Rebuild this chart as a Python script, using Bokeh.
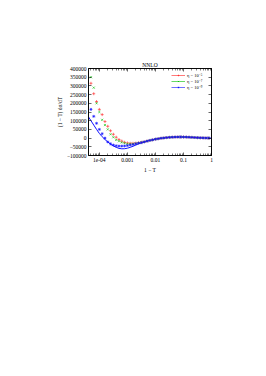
from bokeh.plotting import figure
from bokeh.models import (Range1d, LogAxis, LinearAxis, FixedTicker, Legend, LegendItem,
                          BasicTickFormatter)
from bokeh.embed import file_html
from bokeh.resources import INLINE

# ---------------- data ----------------
bin_exp = [-4.3, -4.2, -4.1, -4.0, -3.9, -3.8, -3.7, -3.6, -3.5, -3.4, -3.3, -3.2, -3.1, -3.0,
           -2.9, -2.8, -2.7, -2.6, -2.5, -2.4, -2.3, -2.2, -2.1, -2.0, -1.9, -1.8, -1.7, -1.6,
           -1.5, -1.4, -1.3, -1.2, -1.1, -1.0, -0.9, -0.8, -0.7, -0.6, -0.5, -0.4, -0.3, -0.2, -0.1]

eta5 = [315000, 255000, 210000, 165000, 135000, 95000, 68000, 42000, 22000, 5000, -8000, -17000,
        -24000, -28000, -30000, -30000, -29000, -27000, -24000, -21000, -17500, -13500, -10000,
        -6500, -3500, -1000, 1000, 2800, 4200, 5200, 5900, 6400, 6500, 6300, 5800, 5100, 4300,
        3400, 2600, 1800, 1200, 700, 300]
eta7 = [350000, 290000, 200000, 150000, 105000, 75000, 50000, 22000, 5000, -10000, -18000, -25000,
        -29000, -33000, -34000, -33000, -31000, -28000, -25000, -21500, -17500, -13500, -10000,
        -6500, -3500, -1000, 1100, 2900, 4300, 5300, 6000, 6400, 6500, 6300, 5800, 5000, 4200,
        3400, 2500, 1800, 1200, 700, 300]
eta9 = [165000, 125000, 85000, 50000, 25000, 0, -22000, -33000, -40000, -44000, -46000, -46000,
        -45000, -43000, -40000, -37000, -33000, -29000, -26000, -22000, -17500, -13500, -10000,
        -6500, -3500, -1000, 1000, 2900, 4200, 5200, 6000, 6400, 6500, 6300, 5800, 5000, 4200,
        3300, 2500, 1800, 1200, 700, 300]

curve_exp = [-4.4, -4.3, -4.2, -4.1, -4.0, -3.9, -3.8, -3.7, -3.6, -3.5, -3.4, -3.3, -3.2, -3.1,
             -3.0, -2.9, -2.8, -2.7, -2.6, -2.5, -2.4, -2.3, -2.2, -2.1, -2.0, -1.9, -1.8, -1.7,
             -1.6, -1.5, -1.4, -1.3, -1.2, -1.1, -1.0, -0.9, -0.8, -0.7, -0.6, -0.5, -0.4, -0.3,
             -0.2, -0.1, 0.0]
curve_val = [125000, 100000, 75000, 50000, 27000, 8000, -8000, -22000, -35000, -45000, -53000,
             -59000, -61500, -61000, -58000, -53000, -47000, -40000, -33000, -27000, -21500,
             -17000, -13000, -9500, -6000, -3000, -800, 1200, 3000, 4200, 5200, 6000, 6400, 6500,
             6300, 5800, 5000, 4200, 3300, 2500, 1800, 1200, 700, 300, 0]

labels = ["η = 10⁻⁵", "η = 10⁻⁷", "η = 10⁻⁹"]
colors = ["#ff2020", "#00c000", "#1010ff"]
markers = ["cross", "x", "asterisk"]

x_ticks = [1e-4, 1e-3, 1e-2, 1e-1, 1.0]
x_tick_labels = {1e-4: "1e-04", 1e-3: "0.001", 1e-2: "0.01", 1e-1: "0.1", 1.0: "1"}
y_ticks = [-100000, -50000, 0, 50000, 100000, 150000, 200000, 250000, 300000, 350000, 400000]

# ---------------- figure ----------------
FONT = "Liberation Serif"
FS = "5.5px"

p = figure(width=250, height=360, x_axis_type="log",
           x_range=Range1d(4.1e-5, 1.0), y_range=Range1d(-100000, 400000),
           output_backend="svg", toolbar_location=None,
           min_border_left=88, min_border_right=39, min_border_top=68, min_border_bottom=205)
p.xgrid.visible = False
p.ygrid.visible = False
p.outline_line_color = "black"
p.outline_line_width = 0.8
p.background_fill_color = "white"
p.border_fill_color = "white"

p.title.text = "NNLO"
p.title.align = "center"
p.title.text_font = FONT
p.title.text_font_size = FS
p.title.text_font_style = "normal"
p.title.text_color = "black"
p.title.standoff = 1

minor_x = [k * 10.0 ** d for d in (-5, -4, -3, -2, -1) for k in range(2, 10)]

def style_axis(ax, show_labels=True, minor=True):
    ax.axis_line_color = "black"
    ax.axis_line_width = 0.8
    ax.major_tick_in = 3
    ax.major_tick_out = 0
    ax.minor_tick_in = 2 if minor else 0
    ax.minor_tick_out = 0
    ax.major_tick_line_color = "black"
    ax.minor_tick_line_color = "black"
    ax.major_tick_line_width = 0.6
    ax.minor_tick_line_width = 0.5
    ax.major_label_text_font = FONT
    ax.major_label_text_font_size = FS
    ax.major_label_text_color = "black"
    if not show_labels:
        ax.major_label_text_color = None
        ax.major_label_standoff = 0
    else:
        ax.major_label_standoff = 2
    ax.axis_label_text_font = FONT
    ax.axis_label_text_font_size = FS
    ax.axis_label_text_font_style = "normal"
    ax.axis_label_text_color = "black"

xb = p.xaxis[0]
xb.ticker = FixedTicker(ticks=x_ticks, minor_ticks=minor_x)
xb.major_label_overrides = x_tick_labels
xb.axis_label = "1 − T"
xb.axis_label_standoff = 2
style_axis(xb)

yl = p.yaxis[0]
yl.ticker = FixedTicker(ticks=y_ticks)
yl.formatter = BasicTickFormatter(use_scientific=False)
yl.axis_label = "(1 − T) dσ/dT"
yl.axis_label_standoff = 1
style_axis(yl, minor=False)

xt = LogAxis(ticker=FixedTicker(ticks=x_ticks, minor_ticks=minor_x))
style_axis(xt, show_labels=False)
p.add_layout(xt, "above")
yr = LinearAxis(ticker=FixedTicker(ticks=y_ticks))
style_axis(yr, show_labels=False, minor=False)
p.add_layout(yr, "right")

# curve
p.line([10.0 ** e for e in curve_exp], curve_val, line_color="#1010ff", line_width=1.0)

xs = [10.0 ** e for e in bin_exp]
items = []
for vals, lab, col, mk in zip([eta5, eta7, eta9], labels, colors, markers):
    r = p.scatter(xs, vals, marker=mk, size=3, line_color=col, fill_color=col, line_width=0.6)
    ln = p.line(xs[:1], vals[:1], line_color=col, line_width=0.6)
    items.append(LegendItem(label=lab, renderers=[ln, r]))

legend = Legend(items=items, location="top_right", margin=4, padding=1, spacing=0,
                glyph_width=14, glyph_height=4, label_height=4, label_standoff=2,
                label_text_font=FONT, label_text_font_size="4.5px", label_text_color="black",
                border_line_color=None, background_fill_alpha=0)
p.add_layout(legend, "center")

open("out.html", "w").write(file_html(p, INLINE))
